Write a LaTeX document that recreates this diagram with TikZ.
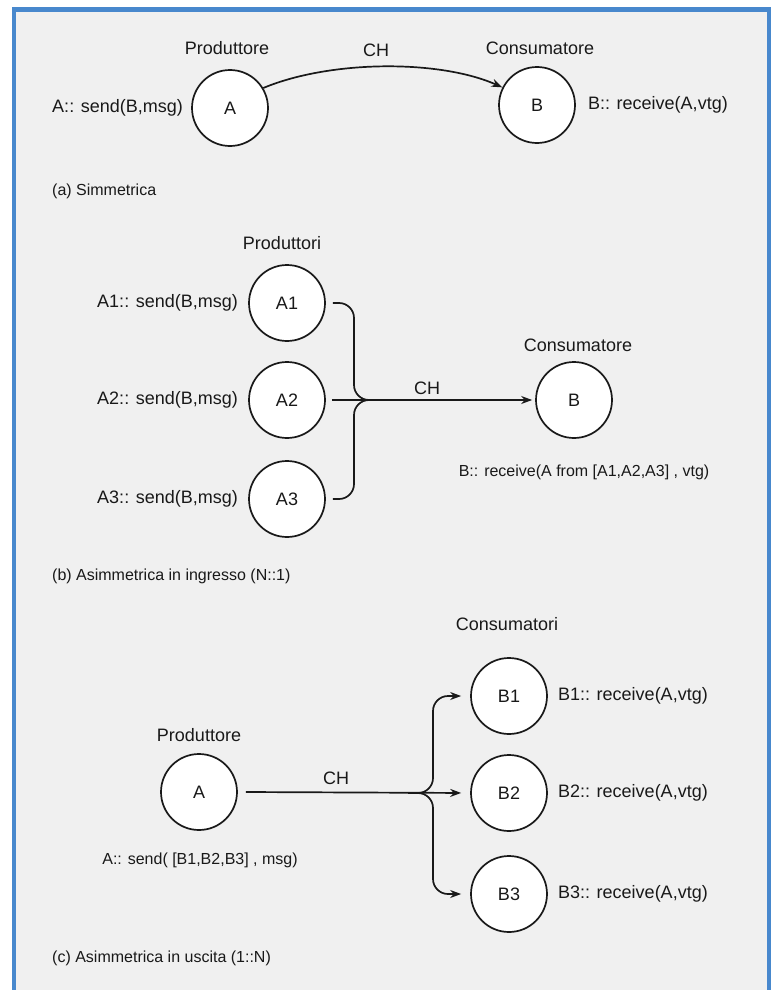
\documentclass[tikz,border=0pt]{standalone}
\usepackage{fontspec}
\setmainfont{Liberation Sans}
\usetikzlibrary{arrows.meta}
\definecolor{panelbg}{RGB}{240,240,240}
\definecolor{frameblue}{RGB}{72,136,205}
\definecolor{ink}{RGB}{25,25,25}
\tikzset{
  proc/.style={circle, draw=ink, fill=white, line width=1.7pt, minimum size=76pt,
               inner sep=0pt, text=ink, font=\fontsize{18}{21}\selectfont},
  lbl/.style={text=ink, inner sep=0pt, font=\fontsize{18}{21}\selectfont},
  figcaption/.style={text=ink, inner sep=0pt, anchor=west, font=\fontsize{16}{19}\selectfont},
  small/.style={text=ink, inner sep=0pt, font=\fontsize{16}{19}\selectfont},
  wire/.style={draw=ink, line width=1.7pt},
  arr/.style={wire, -{Stealth[length=11pt,width=8pt]}},
}
\begin{document}
\begin{tikzpicture}[x=1pt,y=-1pt]
\useasboundingbox (0,0) rectangle (771,990);
% panel and its blue frame (open at the bottom)
\fill[panelbg] (14,10) rectangle (771,990);
\draw[frameblue, line width=4.5pt] (14,990) -- (14,9.5) -- (769,9.5) -- (769,990);

% ---------------- (a) symmetric ----------------
\node[proc] (aA) at (230,108) {A};
\node[proc] (aB) at (537,105) {B};
\node[lbl] (aProd) at (227,48) {Produttore};
\node[lbl] (aCH) at (376,50) {CH};
\node[lbl] (aCons) at (540,48) {Consumatore};
\node[lbl, anchor=east] (aSend) at ([xshift=-8pt]aA.west) {A:: send(B,msg)};
\node[lbl, anchor=west] (aRecv) at ([xshift=12pt]aB.east) {B:: receive(A,vtg)};
\draw[arr] (aA.31) .. controls +(67,-28) and +(-63,-28) .. (aB.153);
\node[figcaption] (aCap) at (52,191) {(a) Simmetrica};

% ---------------- (b) asymmetric input ----------------
\node[lbl] (bProd) at (282,243) {Produttori};
\node[proc] (bA1) at (287,303) {A1};
\node[proc] (bA2) at (287,400) {A2};
\node[proc] (bA3) at (287,499) {A3};
\node[proc] (bB) at (574,400) {B};
\node[lbl, anchor=east] (bS1) at ([xshift=-10pt]bA1.west) {A1:: send(B,msg)};
\node[lbl, anchor=east] (bS2) at ([xshift=-10pt]bA2.west) {A2:: send(B,msg)};
\node[lbl, anchor=east] (bS3) at ([xshift=-10pt]bA3.west) {A3:: send(B,msg)};
\node[lbl] (bCons) at (578,345) {Consumatore};
\node[lbl] (bCH) at (427,388) {CH};
\node[small] (bRecv) at (584,472) {B:: receive(A from [A1,A2,A3] , vtg)};
\coordinate (bJ) at (378,400);
\coordinate (bV) at (354,0);
\draw[wire, rounded corners=15pt] ([xshift=7pt]bA1.east) -- (bV |- bA1) -- (bV |- bJ) -- (bJ);
\draw[wire, rounded corners=15pt] ([xshift=7pt]bA3.east) -- (bV |- bA3) -- (bV |- bJ) -- (bJ);
\draw[arr, shorten >=3pt] ([xshift=6pt]bA2.east) -- (bB.west);
\node[figcaption] (bCap) at (52,576) {(b) Asimmetrica in ingresso (N::1)};

% ---------------- (c) asymmetric output ----------------
\node[lbl] (cCons) at (507,624) {Consumatori};
\node[proc] (cB1) at (509,696) {B1};
\node[proc] (cB2) at (509,793) {B2};
\node[proc] (cB3) at (509,894) {B3};
\node[lbl, anchor=west] (cR1) at ([xshift=10pt]cB1.east) {B1:: receive(A,vtg)};
\node[lbl, anchor=west] (cR2) at ([xshift=10pt]cB2.east) {B2:: receive(A,vtg)};
\node[lbl, anchor=west] (cR3) at ([xshift=10pt]cB3.east) {B3:: receive(A,vtg)};
\node[proc] (cA) at (199,792) {A};
\node[lbl] (cProd) at (199,735) {Produttore};
\node[small] (cSend) at (200,860) {A:: send( [B1,B2,B3] , msg)};
\node[lbl] (cCH) at (336,778) {CH};
\coordinate (cJ) at (408,793);
\coordinate (cV) at (433,0);
\draw[arr, shorten >=9pt] ([xshift=8pt]cA.east) -- (cB2.west);
\draw[arr, shorten >=9pt, rounded corners=15pt] (cJ) -- (cV |- cJ) -- (cV |- cB1) -- (cB1.west);
\draw[arr, shorten >=9pt, rounded corners=15pt] (cJ) -- (cV |- cJ) -- (cV |- cB3) -- (cB3.west);
\node[figcaption] (cCap) at (52,958) {(c) Asimmetrica in uscita (1::N)};
\end{tikzpicture}
\end{document}
